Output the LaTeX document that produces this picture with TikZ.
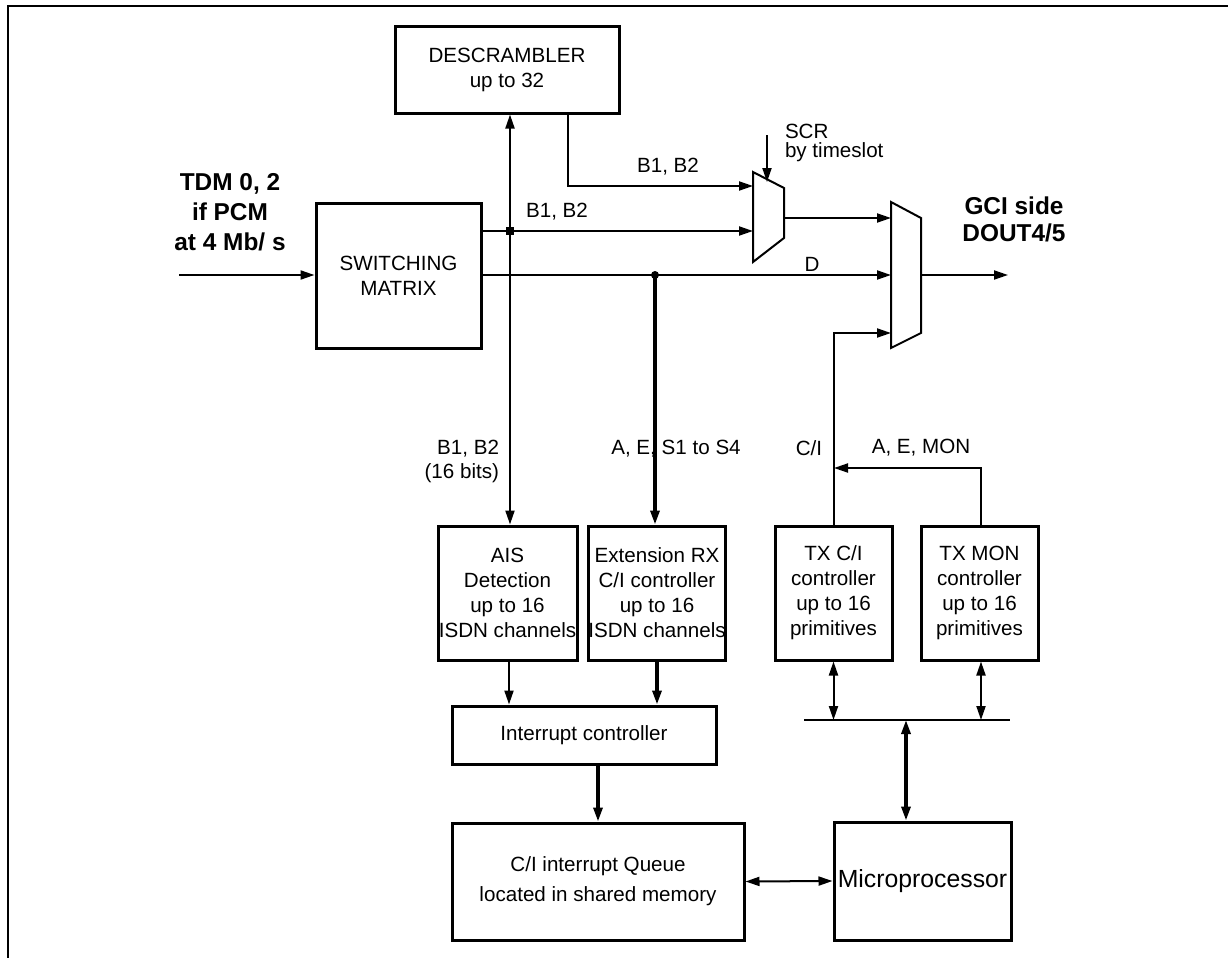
\documentclass[tikz,border=0pt]{standalone}
\usepackage{fontspec}
\setmainfont{Liberation Sans}
\usepackage{tikz}
\usetikzlibrary{arrows.meta}
\tikzset{block/.style={draw,line width=1.5pt,inner sep=0pt,align=center,
		font=\fontsize{10.3}{12.5}\selectfont},
}

\begin{document}
\begin{tikzpicture}[x=0.5pt,y=-0.5pt,>={Triangle[length=7pt,width=4.5pt]},line width=1pt,
		lbl/.style={font=\fontsize{10.3}{12}\selectfont,inner sep=0pt},
		big lbl/.style={font=\fontsize{12.2}{15}\selectfont\bfseries,inner sep=0pt,align=center},
		heavy/.style={line width=1.6pt}]
		
		\useasboundingbox (0,0) rectangle (1228,958);
		\draw (1228,6) -- (8,6) -- (8,958);
		
		\node[block,minimum width=112pt,minimum height=43.5pt] (descr) at (507,69.5) {DESCRAMBLER\\up to 32};
		\node[block,minimum width=82.5pt,minimum height=72.5pt] (switch) at (398.5,275.5) {SWITCHING\\MATRIX};
		\node[block,minimum width=69.5pt,minimum height=67pt] (ais) at (507.5,593) {AIS\\Detection\\up to 16\\ISDN channels};
		\node[block,minimum width=66pt,minimum height=67pt] (extrx) at (657,593) {Extension RX\\C/I controller\\up to 16\\ISDN channels};
		\node[block,minimum width=58.5pt,minimum height=67pt] (txci) at (833.5,593) {TX C/I\\controller\\up to 16\\primitives};
		\node[block,minimum width=58.5pt,minimum height=67pt] (txmon) at (979.5,593) {TX MON\\controller\\up to 16\\primitives};
		\node[block,minimum width=132pt,minimum height=29pt] (intc) at (584,735) {Interrupt controller};
		\node[block,minimum width=146pt,minimum height=58.5pt] (queue) at (598,881.5) {C/I interrupt Queue\\[2.5pt]located in shared memory};
		\node[block,minimum width=88.5pt,minimum height=59pt,font=\fontsize{12.4}{15}\selectfont] (micro) at (922.5,881) {Microprocessor};
		
		% multiplexers
		\draw (753,172) -- (784,188) -- (784,238) -- (753,262) -- cycle;
		\draw (891,202) -- (921,218) -- (921,333) -- (891,348) -- cycle;
		\coordinate (mxa1) at (753,186);
		\coordinate (mxa2) at (753,231);
		\coordinate (mxaout) at (784,218);
		\coordinate (mxb1) at (891,218);
		\coordinate (mxb2) at (891,275);
		\coordinate (mxb3) at (891,333);
		\coordinate (mxbout) at (921,275);
		
		\coordinate (tdm) at (179,275);
		\coordinate (gci) at (1008,275);
		\coordinate (scr) at (767,135);
		\coordinate (sw1) at (481,231);
		\coordinate (sw2) at (481,275);
		\coordinate (j1) at (510,231);
		\coordinate (j2) at (655,275);
		\coordinate (dsout) at (568,113);
		\coordinate (aem) at (834,468);
		\coordinate (busl) at (804,720);
		\coordinate (busr) at (1010,720);
		\coordinate (busm) at (906,720);
		
		\draw[->] (tdm) -- (switch.west |- tdm);
		\draw[->] (sw1) -- (mxa2);
		\draw[->] (sw2) -- (mxb2);
		\draw[->] (dsout) |- (mxa1);
		\draw[<->] (descr.south -| j1) -- (ais.north -| j1);
		\fill (j1) ++(-4,-4) rectangle ++(8,8);
		\fill (j2) circle (2pt);
		\draw[->,heavy] (j2) -- (j2 |- extrx.north);
		\draw[->] (scr) -- (767,182);
		\draw[->] (mxaout) -- (mxb1);
		\draw[->] (mxbout) -- (gci);
		\draw[->] (txci.north) |- (mxb3);
		\draw[->] (txmon.north -| 981,0) |- (aem);
		
		\draw[->] (ais.south -| 509,0) -- (intc.north -| 509,0);
		\draw[->,heavy] (extrx.south) -- (extrx.south |- intc.north);
		\draw[->,heavy] (queue.north |- intc.south) -- (queue.north);
		\draw (busl) -- (busr);
		\draw[<->] (txci.south) -- (txci.south |- busl);
		\draw[<->] (txmon.south -| 981,0) -- (busl -| 981,0);
		\draw[<->,heavy] (busm) -- (micro.north -| busm);
		\draw[<->] (queue.east) -- (micro.west);
		
		% labels
		\node[big lbl] (tdmlbl) at (230,212) {TDM 0, 2\\if PCM\\at 4 Mb/ s};
		\node[big lbl,font=\fontsize{12.2}{13.5}\selectfont\bfseries] (gcilbl) at (1014,219.5) {GCI side\\DOUT4/5};
		\node[lbl] (b12a) at (668,167) {B1, B2};
		\node[lbl] (b12b) at (557,212) {B1, B2};
		\node[lbl] (dlbl) at (812,264) {D};
		\node[lbl,align=left,anchor=west,font=\fontsize{10.3}{9.6}\selectfont] (scrlbl) at (784,143) {SCR\\by timeslot};
		\node[lbl,align=right,anchor=east] (b16lbl) at (500,461) {B1, B2\\(16 bits)};
		\node[lbl] (aeslbl) at (676,449) {A, E, S1 to S4};
		\node[lbl] (cilbl) at (809,448) {C/I};
		\node[lbl] (aemlbl) at (921,448) {A, E, MON};
		\end{tikzpicture}
\end{document}
